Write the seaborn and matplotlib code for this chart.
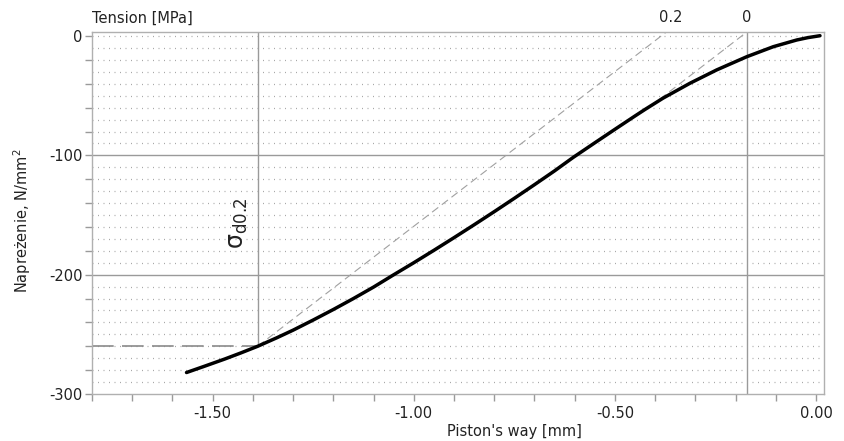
import matplotlib
matplotlib.use("Agg")
import matplotlib.pyplot as plt
import numpy as np
import pandas as pd
import seaborn as sns

# piston way [mm] vs. stress [N/mm2]
way_mm = [-1.565, -1.52, -1.47, -1.43, -1.388, -1.34, -1.30, -1.25, -1.20,
          -1.15, -1.10, -1.052, -1.00, -0.95, -0.90, -0.85, -0.80, -0.75,
          -0.70, -0.65, -0.604, -0.55, -0.50, -0.45, -0.425, -0.38, -0.313,
          -0.247, -0.172, -0.106, -0.048, -0.02, 0.01]
stress = [-282, -276.7, -270.7, -265.6, -260, -252.8, -246.5, -238, -229.2,
          -220, -210.4, -200.5, -190, -179.6, -169, -158.2, -147.2, -136,
          -124.6, -113, -101.8, -89.5, -78.2, -67, -61.5, -52, -39.5,
          -28.4, -17.3, -8.9, -3.3, -1.3, 0.3]

sigma_x = -1.388     # way at sigma_d0.2
sigma_y = -260       # sigma_d0.2
modulus = 260        # slope of elastic line, N/mm2 per mm
zero_x = -0.185      # elastic line crosses zero stress here
offset = 0.2
zero_end_y = -53     # where the 0 line meets the curve

x_ticks = [-1.5, -1.0, -0.5, 0.0]
y_ticks = [0, -100, -200, -300]

df = pd.DataFrame({"way": way_mm, "stress": stress})

sns.set_style("white")
plt.rcParams["axes.unicode_minus"] = False
plt.rcParams["font.family"] = ["DejaVu Sans"]

fig = plt.figure(figsize=(8.44, 4.41), dpi=100)
ax = fig.add_axes([0.109, 0.1066, 0.8673, 0.8208])

xmin, xmax = -1.80, 0.02
ymin, ymax = -300, 3.4
grey = "#9a9a9a"

# dotted background grid every 10 units
for lev in np.arange(-290, 1, 10):
    if lev in (-100, -200):
        continue
    ax.axhline(lev, color="#a8a8a8", lw=0.9, ls=(0, (0.8, 3.6)), zorder=0)
for lev in (-100, -200):
    ax.axhline(lev, color=grey, lw=1.0, zorder=1)

# vertical reference lines
ax.vlines(zero_x + ymax / modulus, ymin, ymax, color=grey, lw=1.0, zorder=1)
ax.vlines(sigma_x, sigma_y, ymax, color=grey, lw=1.0, zorder=1)

# horizontal dashed at sigma_d0.2
ax.hlines(sigma_y, xmin, sigma_x, color="#8a8a8a", lw=1.2,
          linestyles=(0, (13, 5)), zorder=2)

# offset (0.2) and zero elastic lines
off_x0 = zero_x - offset
ax.plot([sigma_x, off_x0 + ymax / modulus], [sigma_y, ymax],
        color="#a0a0a0", lw=0.8, ls=(0, (7, 4)), zorder=2)
ax.plot([zero_x + zero_end_y / modulus, zero_x + ymax / modulus], [zero_end_y, ymax],
        color="#a0a0a0", lw=0.8, ls=(0, (7, 4)), zorder=2)

sns.lineplot(data=df, x="way", y="stress", sort=False, estimator=None,
             color="black", lw=2.5, ax=ax, zorder=5)

ax.set_xlim(xmin, xmax)
ax.set_ylim(ymin, ymax)
ax.set_xticks(x_ticks)
ax.set_xticklabels([f"{t:.2f}" for t in x_ticks])
ax.set_xticks(np.arange(-1.8, 0.01, 0.1), minor=True)
ax.set_yticks(y_ticks)
ax.set_yticklabels([str(t) for t in y_ticks])
ax.set_yticks(np.arange(-300, 1, 20), minor=True)
ax.tick_params(which="both", direction="out", length=5, width=1,
               color=grey, labelsize=10.5, labelcolor="#222222")
ax.tick_params(axis="y", which="both", left=True, pad=2)
ax.tick_params(axis="x", which="both", bottom=True, pad=4)
for s in ax.spines.values():
    s.set_color("#b0b0b0")
    s.set_linewidth(1.0)

ax.set_xlabel("")
ax.set_ylabel("")
fig.text(0.61, 0.005, "Piston's way [mm]", ha="center", va="bottom",
         fontsize=10.5, color="#222222")
fig.text(0.026, 0.5, "Napreżenie, N/mm$^2$", rotation=90, ha="center",
         va="center", fontsize=10.5, color="#222222")
fig.text(0.109, 0.958, "Tension [MPa]", ha="left", va="center",
         fontsize=10.5, color="#222222")

ax.text(off_x0 + ymax / modulus + 0.01, 1.02, "0.2", transform=ax.get_xaxis_transform(),
        ha="center", va="bottom", fontsize=10.5, color="#222222")
ax.text(zero_x + ymax / modulus, 1.02, "0", transform=ax.get_xaxis_transform(),
        ha="center", va="bottom", fontsize=10.5, color="#222222")
ax.text(sigma_x - 0.05, -157, r"$\mathrm{\sigma_{d0.2}}$", rotation=90, ha="center",
        va="center", fontsize=17, color="#222222")

fig.savefig("out.png", dpi=100)
